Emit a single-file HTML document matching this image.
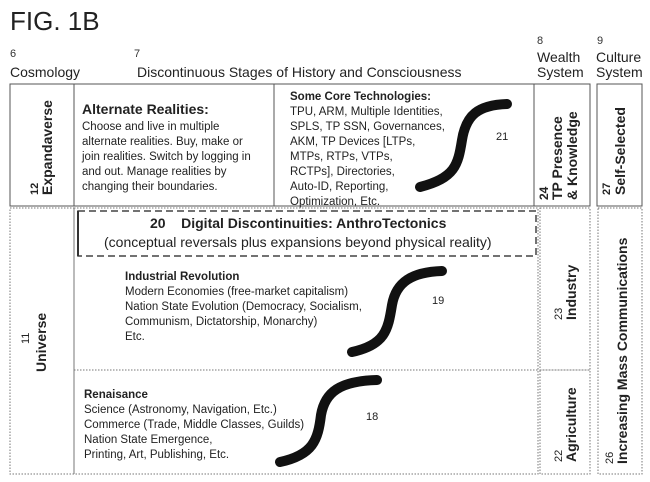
<!DOCTYPE html>
<html><head><style>
body{margin:0;background:#fff;}
svg{display:block;font-family:"Liberation Sans",Arial,sans-serif;}
</style></head><body>
<svg width="650" height="482" viewBox="0 0 650 482" xmlns="http://www.w3.org/2000/svg">
<text x="10" y="30" font-size="26" fill="#222">FIG. 1B</text>
<g font-size="11" fill="#333">
<text x="10" y="57">6</text><text x="134" y="57">7</text>
<text x="537" y="44">8</text><text x="597" y="44">9</text>
</g>
<g font-size="14" fill="#222">
<text x="10" y="77">Cosmology</text>
<text x="137" y="77">Discontinuous Stages of History and Consciousness</text>
<text x="537" y="62">Wealth</text><text x="537" y="77">System</text>
<text x="596" y="62">Culture</text><text x="596" y="77">System</text>
</g>
<g fill="none" stroke="#555" stroke-width="1">
<rect x="10" y="84" width="64" height="122"/>
<rect x="74" y="84" width="200" height="122"/>
<rect x="274" y="84" width="260" height="122"/>
<rect x="534" y="84" width="56" height="122"/>
<rect x="597" y="84" width="45" height="122"/>
</g>
<g fill="none" stroke="#777" stroke-width="1" stroke-dasharray="1.5,1.5">
<rect x="10" y="208" width="64" height="266"/>
<rect x="74" y="208" width="464" height="266"/>
<line x1="74" y1="370" x2="538" y2="370"/>
<rect x="540" y="208" width="50" height="162"/>
<rect x="540" y="370" width="50" height="104"/>
<rect x="598" y="208" width="44" height="266"/>
</g>
<rect x="78" y="211" width="458" height="45" fill="none" stroke="#444" stroke-width="1.5" stroke-dasharray="7,4"/>
<line x1="78" y1="211" x2="78" y2="256" stroke="#333" stroke-width="2"/>
<g fill="#222">
<text x="82" y="114" font-size="14" font-weight="bold">Alternate Realities:</text>
<g font-size="11.5"><text x="82" y="130">Choose and live in multiple</text><text x="82" y="145">alternate realities. Buy, make or</text><text x="82" y="160">join realities. Switch by logging in</text><text x="82" y="175">and out. Manage realities by</text><text x="82" y="190">changing their boundaries.</text></g>
<text x="290" y="100" font-size="11.5" font-weight="bold">Some Core Technologies:</text>
<g font-size="11.5"><text x="290" y="115">TPU, ARM, Multiple Identities,</text><text x="290" y="130">SPLS, TP SSN, Governances,</text><text x="290" y="145">AKM, TP Devices [LTPs,</text><text x="290" y="160">MTPs, RTPs, VTPs,</text><text x="290" y="175">RCTPs], Directories,</text><text x="290" y="190">Auto-ID, Reporting,</text><text x="290" y="205">Optimization, Etc.</text></g>
<text x="496" y="140" font-size="11">21</text>
<text x="150" y="228" font-size="14" font-weight="bold">20&#160;&#160;&#160;&#160;Digital Discontinuities: AnthroTectonics</text>
<text x="104" y="247" font-size="14">(conceptual reversals plus expansions beyond physical reality)</text>
<text x="125" y="280" font-size="11.5" font-weight="bold">Industrial Revolution</text>
<g font-size="11.5"><text x="125" y="295">Modern Economies (free-market capitalism)</text><text x="125" y="310">Nation State Evolution (Democracy, Socialism,</text><text x="125" y="325">Communism, Dictatorship, Monarchy)</text><text x="125" y="340">Etc.</text></g>
<text x="432" y="304" font-size="11">19</text>
<text x="84" y="398" font-size="11.5" font-weight="bold">Renaisance</text>
<g font-size="11.5"><text x="84" y="413">Science (Astronomy, Navigation, Etc.)</text><text x="84" y="428">Commerce (Trade, Middle Classes, Guilds)</text><text x="84" y="443">Nation State Emergence,</text><text x="84" y="458">Printing, Art, Publishing, Etc.</text></g>
<text x="366" y="420" font-size="11">18</text>
</g>
<g fill="none" stroke="#111" stroke-width="10" stroke-linecap="round">
<path d="M420,187 C455,178 458,165 462,140 C466,115 478,105 507,104"/>
<path d="M352,352 C385,345 388,330 392,305 C396,282 412,272 442,271"/>
<path d="M280,462 C313,455 318,440 321,415 C325,392 340,381 377,380"/>
</g>
<g fill="#222">
<g transform="translate(38,195) rotate(-90)"><text font-size="11" font-weight="bold">12</text><text x="0" y="14" font-size="14" font-weight="bold">Expandaverse</text></g>
<g transform="translate(29,372) rotate(-90)"><text font-size="11" x="28">11</text><text y="17" font-size="14" font-weight="bold">Universe</text></g>
<g transform="translate(548,200) rotate(-90)"><text font-size="12" font-weight="bold">24</text></g>
<g transform="translate(562,200) rotate(-90)"><text font-size="14" font-weight="bold">TP Presence</text></g>
<g transform="translate(577,200) rotate(-90)"><text font-size="14" font-weight="bold">&amp; Knowledge</text></g>
<g transform="translate(625,195) rotate(-90)"><text font-size="11" font-weight="bold" y="-15">27</text><text font-size="14" font-weight="bold">Self-Selected</text></g>
<g transform="translate(562,320) rotate(-90)"><text font-size="11">23</text><text x="0" y="14" font-size="14" font-weight="bold">Industry</text></g>
<g transform="translate(562,462) rotate(-90)"><text font-size="11">22</text><text y="14" font-size="14" font-weight="bold">Agriculture</text></g>
<g transform="translate(627,464) rotate(-90)"><text font-size="11" y="-14">26</text><text font-size="14" font-weight="bold" x="0">Increasing Mass Communications</text></g>
</g>
</svg>
</body></html>
